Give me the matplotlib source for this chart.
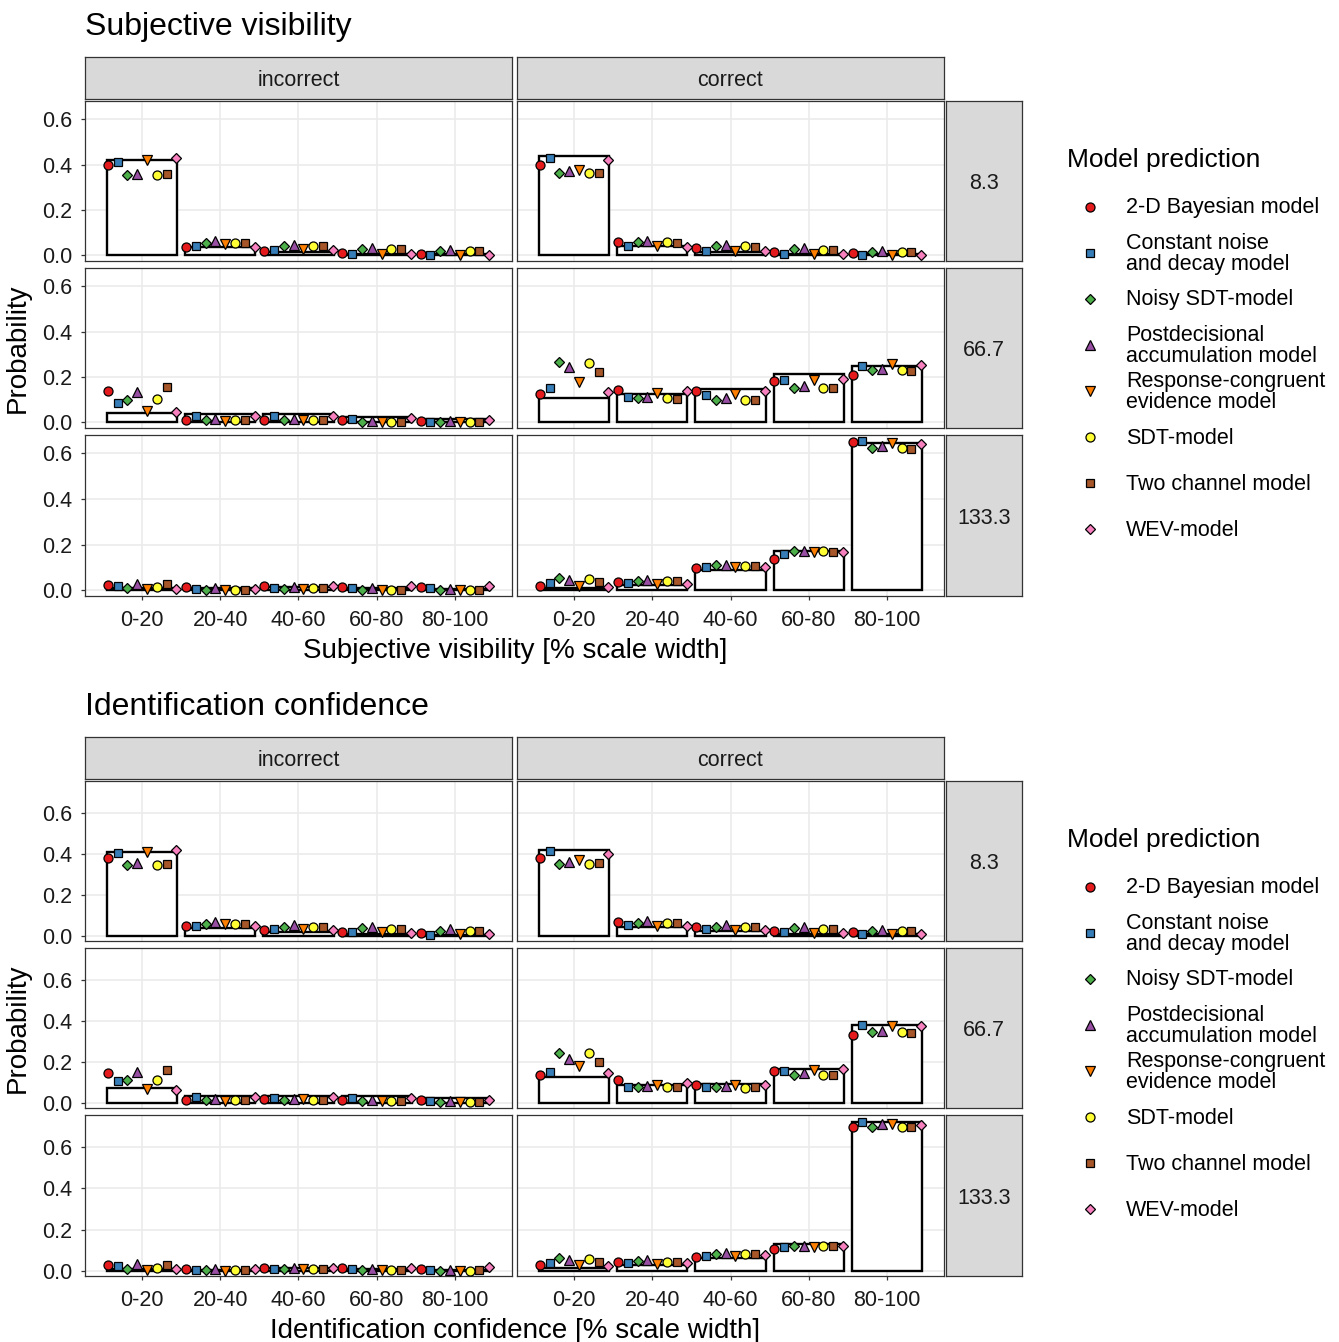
import numpy as np
import matplotlib.pyplot as plt

plt.rcParams['font.family'] = ['Liberation Sans', 'DejaVu Sans']

W, H = 1339, 1342

models = ["2-D Bayesian model", "Constant noise\nand decay model", "Noisy SDT-model",
          "Postdecisional\naccumulation model", "Response-congruent\nevidence model",
          "SDT-model", "Two channel model", "WEV-model"]
colors = ["#E41A1C", "#377EB8", "#4DAF4A", "#984EA3", "#FF7F00", "#FFFF33", "#A65628", "#F781BF"]
markers = ["o", "s", "D", "^", "v", "o", "s", "D"]
bins = ["0-20", "20-40", "40-60", "60-80", "80-100"]
durations = ["8.3", "66.7", "133.3"]
accuracy = ["incorrect", "correct"]

# observed response proportions, one row per stimulus duration (8.3, 66.7, 133.3 ms)
vis_obs_incorrect = [[0.420, 0.035, 0.015, 0.005, 0.005],
                     [0.041, 0.037, 0.036, 0.025, 0.015],
                     [0.012, 0.009, 0.015, 0.010, 0.007]]
vis_obs_correct = [[0.438, 0.041, 0.015, 0.005, 0.005],
                   [0.108, 0.126, 0.145, 0.212, 0.247],
                   [0.012, 0.022, 0.088, 0.173, 0.647]]
conf_obs_incorrect = [[0.408, 0.040, 0.021, 0.011, 0.006],
                      [0.074, 0.035, 0.034, 0.032, 0.023],
                      [0.010, 0.005, 0.013, 0.008, 0.006]]
conf_obs_correct = [[0.421, 0.045, 0.024, 0.011, 0.008],
                    [0.127, 0.090, 0.095, 0.168, 0.382],
                    [0.015, 0.029, 0.065, 0.129, 0.721]]

# model predictions: one row per rating bin, one column per model (order as in `models`)
vis_incorrect_8 = [[0.400, 0.410, 0.354, 0.360, 0.420, 0.354, 0.359, 0.430],
                   [0.037, 0.043, 0.056, 0.062, 0.049, 0.055, 0.056, 0.037],
                   [0.021, 0.022, 0.040, 0.046, 0.028, 0.040, 0.040, 0.022],
                   [0.012, 0.007, 0.028, 0.032, 0.007, 0.027, 0.027, 0.007],
                   [0.007, 0.002, 0.018, 0.025, 0.000, 0.018, 0.019, 0.003]]
vis_incorrect_67 = [[0.138, 0.087, 0.098, 0.133, 0.052, 0.104, 0.156, 0.044],
                    [0.010, 0.028, 0.009, 0.013, 0.006, 0.009, 0.009, 0.027],
                    [0.012, 0.027, 0.010, 0.015, 0.009, 0.012, 0.010, 0.030],
                    [0.010, 0.015, 0.002, 0.007, 0.001, 0.001, 0.001, 0.018],
                    [0.007, 0.003, 0.000, 0.004, 0.000, 0.000, 0.000, 0.009]]
vis_incorrect_133 = [[0.022, 0.019, 0.010, 0.026, 0.006, 0.013, 0.029, 0.007],
                     [0.015, 0.006, 0.003, 0.009, 0.000, 0.003, 0.003, 0.006],
                     [0.018, 0.010, 0.007, 0.015, 0.007, 0.010, 0.010, 0.019],
                     [0.015, 0.009, 0.003, 0.009, 0.003, 0.003, 0.003, 0.018],
                     [0.013, 0.009, 0.000, 0.007, 0.000, 0.000, 0.003, 0.019]]
vis_correct_8 = [[0.400, 0.430, 0.363, 0.370, 0.376, 0.363, 0.363, 0.420],
                 [0.058, 0.043, 0.058, 0.065, 0.040, 0.059, 0.056, 0.037],
                 [0.032, 0.019, 0.040, 0.044, 0.019, 0.040, 0.037, 0.019],
                 [0.016, 0.007, 0.027, 0.032, 0.007, 0.025, 0.025, 0.007],
                 [0.012, 0.002, 0.015, 0.019, 0.002, 0.016, 0.016, 0.002]]
vis_correct_67 = [[0.127, 0.153, 0.267, 0.244, 0.178, 0.262, 0.222, 0.133],
                  [0.144, 0.111, 0.107, 0.110, 0.130, 0.107, 0.104, 0.136],
                  [0.138, 0.119, 0.099, 0.107, 0.126, 0.098, 0.099, 0.136],
                  [0.182, 0.185, 0.151, 0.159, 0.185, 0.151, 0.150, 0.193],
                  [0.207, 0.249, 0.231, 0.237, 0.256, 0.231, 0.225, 0.252]]
vis_correct_133 = [[0.020, 0.032, 0.053, 0.045, 0.020, 0.048, 0.037, 0.015],
                   [0.035, 0.032, 0.041, 0.045, 0.029, 0.041, 0.041, 0.029],
                   [0.098, 0.100, 0.110, 0.110, 0.100, 0.105, 0.105, 0.100],
                   [0.139, 0.157, 0.173, 0.171, 0.168, 0.171, 0.168, 0.167],
                   [0.649, 0.653, 0.622, 0.634, 0.647, 0.622, 0.618, 0.641]]

conf_incorrect_8 = [[0.381, 0.403, 0.344, 0.356, 0.411, 0.345, 0.350, 0.418],
                    [0.047, 0.050, 0.061, 0.069, 0.058, 0.061, 0.061, 0.048],
                    [0.029, 0.032, 0.045, 0.052, 0.035, 0.045, 0.045, 0.031],
                    [0.018, 0.018, 0.039, 0.045, 0.018, 0.035, 0.035, 0.016],
                    [0.013, 0.006, 0.027, 0.034, 0.008, 0.027, 0.027, 0.010]]
conf_incorrect_67 = [[0.145, 0.106, 0.110, 0.152, 0.068, 0.110, 0.160, 0.066],
                     [0.016, 0.031, 0.013, 0.019, 0.011, 0.013, 0.013, 0.031],
                     [0.018, 0.024, 0.015, 0.021, 0.018, 0.015, 0.013, 0.029],
                     [0.015, 0.024, 0.010, 0.015, 0.011, 0.008, 0.010, 0.027],
                     [0.013, 0.011, 0.006, 0.011, 0.003, 0.006, 0.006, 0.015]]
conf_incorrect_133 = [[0.031, 0.023, 0.011, 0.034, 0.003, 0.013, 0.031, 0.010],
                      [0.010, 0.006, 0.003, 0.010, 0.000, 0.003, 0.003, 0.010],
                      [0.016, 0.010, 0.010, 0.016, 0.008, 0.010, 0.010, 0.016],
                      [0.013, 0.008, 0.003, 0.008, 0.005, 0.003, 0.003, 0.016],
                      [0.010, 0.006, 0.000, 0.006, 0.000, 0.000, 0.003, 0.019]]
conf_correct_8 = [[0.382, 0.415, 0.352, 0.363, 0.368, 0.350, 0.355, 0.402],
                  [0.069, 0.053, 0.065, 0.073, 0.048, 0.065, 0.063, 0.047],
                  [0.044, 0.034, 0.045, 0.053, 0.029, 0.044, 0.042, 0.029],
                  [0.027, 0.018, 0.039, 0.045, 0.016, 0.035, 0.035, 0.016],
                  [0.018, 0.008, 0.026, 0.031, 0.010, 0.024, 0.026, 0.011]]
conf_correct_67 = [[0.135, 0.152, 0.244, 0.216, 0.181, 0.244, 0.202, 0.148],
                   [0.111, 0.079, 0.079, 0.084, 0.087, 0.077, 0.077, 0.098],
                   [0.090, 0.076, 0.076, 0.081, 0.087, 0.074, 0.076, 0.090],
                   [0.155, 0.155, 0.139, 0.147, 0.160, 0.137, 0.137, 0.168],
                   [0.329, 0.381, 0.345, 0.353, 0.374, 0.347, 0.340, 0.377]]
conf_correct_133 = [[0.029, 0.039, 0.061, 0.052, 0.029, 0.058, 0.042, 0.026],
                    [0.044, 0.037, 0.047, 0.053, 0.034, 0.044, 0.045, 0.037],
                    [0.066, 0.074, 0.084, 0.087, 0.074, 0.081, 0.082, 0.077],
                    [0.106, 0.116, 0.121, 0.123, 0.118, 0.121, 0.121, 0.123],
                    [0.695, 0.719, 0.697, 0.710, 0.710, 0.698, 0.698, 0.705]]

sections = [
    dict(title="Subjective visibility", xlabel="Subjective visibility [% scale width]",
         obs=[vis_obs_incorrect, vis_obs_correct],
         pred=[[vis_incorrect_8, vis_incorrect_67, vis_incorrect_133],
               [vis_correct_8, vis_correct_67, vis_correct_133]],
         ylim=(-0.025, 0.68), top=0),
    dict(title="Identification confidence", xlabel="Identification confidence [% scale width]",
         obs=[conf_obs_incorrect, conf_obs_correct],
         pred=[[conf_incorrect_8, conf_incorrect_67, conf_incorrect_133],
               [conf_correct_8, conf_correct_67, conf_correct_133]],
         ylim=(-0.024, 0.755), top=680),
]

# panel geometry in pixels
col_x = [(85, 512), (517, 944)]
row_y = [(101, 261), (268, 428), (435, 596)]
strip_top_y = (57, 99)
strip_right_x = (946, 1022)

msize = {"o": 6.5, "s": 5.8, "D": 5.5, "^": 7, "v": 7}
dodge = np.arange(8) * 0.125 - 0.4375
x = np.arange(1, 6)
grey20 = "#333333"
txt = "#1A1A1A"


def box(x0, y0, x1, y1):
    return [x0 / W, 1 - y1 / H, (x1 - x0) / W, (y1 - y0) / H]


def strip(x0, y0, x1, y1, label):
    sa = fig.add_axes(box(x0, y0, x1, y1))
    sa.set_facecolor("#D9D9D9")
    sa.set_xticks([])
    sa.set_yticks([])
    for sp in sa.spines.values():
        sp.set_color(grey20)
        sp.set_linewidth(0.9)
    sa.text(0.5, 0.5, label, ha="center", va="center_baseline",
            fontsize=15.5, color=txt, transform=sa.transAxes)


fig = plt.figure(figsize=(W / 100, H / 100), dpi=100)
fig.patch.set_facecolor("white")

for sec in sections:
    t = sec["top"]
    for c in range(2):
        for r in range(3):
            ax = fig.add_axes(box(col_x[c][0], row_y[r][0] + t, col_x[c][1], row_y[r][1] + t))
            ax.set_xlim(0.27, 5.73)
            ax.set_ylim(*sec["ylim"])
            ax.set_xticks(x)
            ax.set_yticks([0, 0.2, 0.4, 0.6])
            ax.grid(True, color="#EBEBEB", lw=1.2)
            ax.set_axisbelow(True)
            for sp in ax.spines.values():
                sp.set_color(grey20)
                sp.set_linewidth(0.9)

            ax.bar(x, sec["obs"][c][r], width=0.9, facecolor="white",
                   edgecolor="black", linewidth=1.7, zorder=2)
            pred = np.array(sec["pred"][c][r])
            for m in range(8):
                ax.plot(x + dodge[m], pred[:, m], ls="none", marker=markers[m],
                        ms=msize[markers[m]], mfc=colors[m], mec="black", mew=0.9,
                        zorder=3)

            ax.tick_params(colors=grey20, labelcolor=txt, labelsize=15.5,
                           length=3, width=0.9)
            ax.tick_params(axis="x", pad=7)
            ax.tick_params(axis="y", pad=6)
            ax.set_yticklabels(["0.0", "0.2", "0.4", "0.6"])
            ax.set_xticklabels(bins)
            if c == 1:
                ax.tick_params(axis="y", length=0, labelleft=False)
            if r < 2:
                ax.tick_params(axis="x", length=0, labelbottom=False)

            # duration strip on the right
            if c == 1:
                strip(strip_right_x[0], row_y[r][0] + t, strip_right_x[1], row_y[r][1] + t,
                      durations[r])

        # accuracy strip on top
        strip(col_x[c][0], strip_top_y[0] + t, col_x[c][1], strip_top_y[1] + t, accuracy[c])

# overlay in pixel coordinates for titles, axis labels and legends
ov = fig.add_axes([0, 0, 1, 1])
ov.set_xlim(0, W)
ov.set_ylim(H, 0)
ov.axis("off")
ov.patch.set_visible(False)

legend_y = [207, 253, 299, 345, 391, 437, 483, 529]
for sec in sections:
    t = sec["top"]
    ov.text(85, 27 + t, sec["title"], fontsize=23, ha="left", va="center", color="black")
    ov.text(515, 651 + t, sec["xlabel"], fontsize=20, ha="center", va="center", color="black")
    ov.text(18, 348 + t, "Probability", fontsize=20, ha="center", va="center",
            rotation=90, color="black")
    ov.text(1067, 160 + t, "Model prediction", fontsize=19, ha="left", va="center", color="black")
    for m in range(8):
        ov.plot(1090, legend_y[m] + t, ls="none", marker=markers[m], ms=msize[markers[m]],
                mfc=colors[m], mec="black", mew=0.9)
        ov.text(1126, legend_y[m] + 1 + t, models[m], fontsize=15.5, ha="left", va="center",
                color="black", linespacing=1.0)

fig.savefig("out.png", dpi=100)
